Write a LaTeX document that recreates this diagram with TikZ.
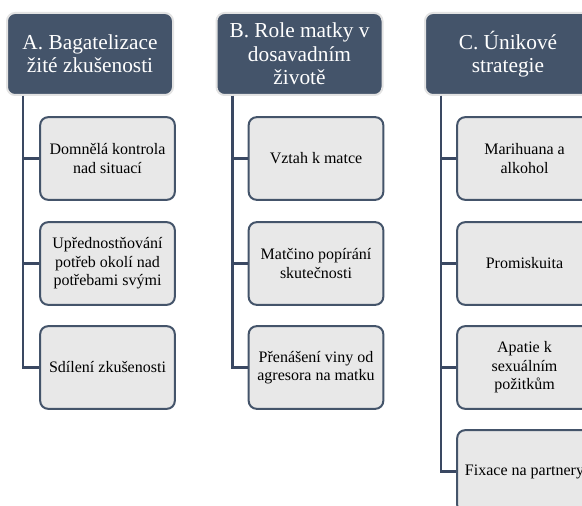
\documentclass[tikz,border=0pt]{standalone}
\usepackage{fontspec}
\setmainfont{Liberation Serif}
\definecolor{hdr}{HTML}{44546A}
\definecolor{hdrline}{HTML}{E3E3E3}
\definecolor{chfill}{HTML}{E8E8E8}
\definecolor{chline}{HTML}{44546A}
\definecolor{conn}{HTML}{3A4862}
\tikzset{
  hdrbox/.style={draw=hdrline, line width=1.5pt, fill=hdr, rounded corners=6pt,
    minimum width=124.5pt, minimum height=61.5pt, text=white, align=center,
    font=\fontsize{16}{17.5}\selectfont, inner sep=2pt},
  childbox/.style={draw=chline, line width=1.5pt, fill=chfill, rounded corners=6pt,
    minimum width=101pt, minimum height=62pt, text=black, align=center,
    font=\fontsize{12}{13.8}\selectfont, inner sep=2pt},
  connline/.style={draw=conn, line width=2.2pt}
}
\begin{document}
\begin{tikzpicture}[x=0.75pt, y=-0.75pt]
\useasboundingbox (0,0) rectangle (582,506);
\clip (0,0) rectangle (582,506);
% headers
\node[hdrbox] (hA) at (90,54) {A. Bagatelizace\\žité zkušenosti};
\node[hdrbox] (hB) at (299.5,54) {B. Role matky v\\dosavadním\\životě};
\node[hdrbox] (hC) at (508,54) {C. Únikové\\strategie};
% line anchors
\coordinate (lA) at ([xshift=12.75pt]hA.south west);
\coordinate (lB) at ([xshift=12.75pt]hB.south west);
\coordinate (lC) at ([xshift=12.75pt]hC.south west);
% children A
\node[childbox] (a1) at (107.5,158.5) {Domnělá kontrola\\nad situací};
\node[childbox] (a2) at (107.5,263.5) {Upřednostňování\\potřeb okolí nad\\potřebami svými};
\node[childbox] (a3) at (107.5,367.5) {Sdílení zkušenosti};
% children B
\node[childbox] (b1) at (316,158.5) {Vztah k matce};
\node[childbox] (b2) at (316,263.5) {Matčino popírání\\skutečnosti};
\node[childbox] (b3) at (316,367.5) {Přenášení viny od\\agresora na matku};
% children C
\node[childbox] (c1) at (524.5,158.5) {Marihuana a\\alkohol};
\node[childbox] (c2) at (524.5,263.5) {Promiskuita};
\node[childbox] (c3) at (524.5,367.5) {Apatie k\\sexuálním\\požitkům};
\node[childbox] (c4) at (524.5,471.5) {Fixace na partnery};
% connectors
\draw[connline] (lA) |- (a1.west);
\draw[connline] (lA) |- (a2.west);
\draw[connline] (lA) |- (a3.west);
\draw[connline] (lB) |- (b1.west);
\draw[connline] (lB) |- (b2.west);
\draw[connline] (lB) |- (b3.west);
\draw[connline] (lC) |- (c1.west);
\draw[connline] (lC) |- (c2.west);
\draw[connline] (lC) |- (c3.west);
\draw[connline] (lC) |- (c4.west);
\end{tikzpicture}
\end{document}
